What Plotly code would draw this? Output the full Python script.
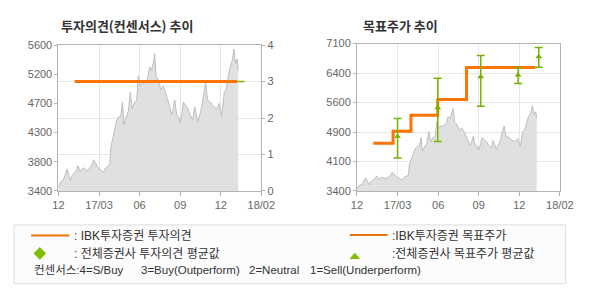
import plotly.graph_objects as go

# ---------------- data ----------------
tick_pos = [0, 1, 2, 3, 4, 5]
tick_text = ["12", "17/03", "06", "09", "12", "18/02"]

# price series (x in tick-interval units from Dec-16)
price_pos = [0.0, 0.056, 0.119, 0.175, 0.214, 0.254, 0.294, 0.333, 0.389, 0.437,
             0.484, 0.532, 0.579, 0.627, 0.690, 0.754, 0.817, 0.865, 0.913, 0.968,
             1.024, 1.103, 1.167, 1.230, 1.262, 1.294, 1.333, 1.381, 1.429, 1.484,
             1.532, 1.579, 1.611, 1.659, 1.722, 1.770, 1.817, 1.881, 1.929, 1.968,
             2.008, 2.071, 2.135, 2.198, 2.246, 2.294, 2.341, 2.373, 2.405, 2.452,
             2.524, 2.579, 2.627, 2.683, 2.738, 2.786, 2.817, 2.865, 2.913, 2.960,
             3.000, 3.040, 3.079, 3.135, 3.190, 3.238, 3.310, 3.357, 3.429, 3.484,
             3.532, 3.587, 3.627, 3.675, 3.746, 3.825, 3.905, 3.960, 4.024, 4.087,
             4.135, 4.183, 4.230, 4.286, 4.325, 4.365, 4.405, 4.429]
price_vals = [3450, 3540, 3560, 3670, 3730, 3640, 3560, 3630, 3660, 3700,
              3780, 3690, 3730, 3750, 3700, 3740, 3780, 3870, 3830, 3750,
              3730, 3680, 3750, 3780, 3780, 4070, 4160, 4310, 4450, 4520,
              4520, 4740, 4400, 4500, 4600, 4890, 4640, 4740, 4770, 5130,
              4980, 5030, 5030, 5100, 5270, 5220, 5340, 5470, 5130, 5080,
              4930, 4980, 4910, 4790, 4690, 4550, 4600, 4770, 4550, 4520,
              4430, 4550, 4740, 4690, 4640, 4550, 4480, 4670, 4450, 4550,
              4670, 4890, 5030, 4770, 4740, 4670, 4640, 4720, 4520, 4890,
              4930, 5130, 5270, 5370, 5540, 5320, 5390, 5220]

# IBK consensus opinion (right axis, 0-4)
opinion_pos = [0.40, 4.40]
opinion_vals = [3, 3]
avg_opinion_pos = [4.40, 4.58]
avg_opinion_vals = [3, 3]

# IBK target price (step)
target_pos = [0.40, 0.89, 1.33, 1.99, 2.70, 4.39]
target_vals = [4600, 4900, 5300, 5700, 6500, 6500]

# all-brokers average target price with range
avg_target_pos = [1.00, 1.99, 3.05, 3.97, 4.48]
avg_target_vals = [4770, 5490, 6270, 6310, 6770]
avg_target_high = [5220, 6230, 6800, 6500, 7000]
avg_target_low = [4230, 4640, 5530, 6100, 6510]

left_ytick_vals = [3400, 3840, 4280, 4720, 5160, 5600]
left_ytick_text = ["3400", "3800", "4300", "4700", "5200", "5600"]
right_ytick_vals = [3400, 4140, 4880, 5620, 6360, 7100]
right_ytick_text = ["3400", "4100", "4900", "5600", "6400", "7100"]

# ---------------- styling ----------------
W, H = 590, 300
ORANGE = "#ff7300"
GREEN = "#74b300"
AXIS = "#b3b3b3"
GRID = "#e6e6e6"
TICKFONT = dict(family="Liberation Sans, Arial, sans-serif", size=11, color="#666666")
LEGFONT = dict(family="Liberation Sans, Noto Sans CJK KR, sans-serif", size=12, color="#333333")


def px(x):
    return x / W


def py(y):
    return 1 - y / H


fig = go.Figure()

# left chart
fig.add_trace(go.Scatter(x=price_pos, y=price_vals, mode="lines", fill="tozeroy",
                         fillcolor="#e0e0e0", line=dict(color="#bdbdbd", width=1),
                         xaxis="x", yaxis="y", hoverinfo="skip"))
fig.add_trace(go.Scatter(x=opinion_pos, y=opinion_vals, mode="lines",
                         line=dict(color=ORANGE, width=3), xaxis="x", yaxis="y2"))
fig.add_trace(go.Scatter(x=avg_opinion_pos, y=avg_opinion_vals, mode="lines",
                         line=dict(color=GREEN, width=1.5), xaxis="x", yaxis="y2"))

# right chart
fig.add_trace(go.Scatter(x=price_pos, y=price_vals, mode="lines", fill="tozeroy",
                         fillcolor="#e0e0e0", line=dict(color="#bdbdbd", width=1),
                         xaxis="x2", yaxis="y3", hoverinfo="skip"))
fig.add_trace(go.Scatter(x=target_pos, y=target_vals, mode="lines", line_shape="hv",
                         line=dict(color=ORANGE, width=3), xaxis="x2", yaxis="y3"))
fig.add_trace(go.Scatter(
    x=avg_target_pos, y=avg_target_vals, mode="markers",
    marker=dict(symbol="triangle-up", size=6, color=GREEN),
    error_y=dict(type="data", symmetric=False,
                 array=[h - v for h, v in zip(avg_target_high, avg_target_vals)],
                 arrayminus=[v - l for l, v in zip(avg_target_low, avg_target_vals)],
                 color=GREEN, thickness=1.5, width=4),
    xaxis="x2", yaxis="y3"))

xcommon = dict(range=[0, 5], tickvals=tick_pos, ticktext=tick_text, showline=True,
               linecolor=AXIS, linewidth=1, mirror=True, showgrid=True, gridcolor=GRID,
               ticks="outside", ticklen=4, tickcolor=AXIS, zeroline=False,
               tickfont=TICKFONT, fixedrange=True)

fig.update_layout(
    width=W, height=H, margin=dict(l=0, r=0, t=0, b=0),
    paper_bgcolor="white", plot_bgcolor="white", showlegend=False,
    xaxis=dict(domain=[px(54.3), px(264.3)], anchor="y", **xcommon),
    yaxis=dict(domain=[py(192.7), py(40.7)], anchor="x", range=[3400, 5600],
               tickvals=left_ytick_vals, ticktext=left_ytick_text, showgrid=False,
               showline=True, linecolor=AXIS, ticks="outside", ticklen=3, tickcolor=AXIS,
               zeroline=False, tickfont=TICKFONT),
    yaxis2=dict(overlaying="y", side="right", anchor="x", range=[0, 4], dtick=1,
                showgrid=True, gridcolor=GRID, showline=True, linecolor=AXIS,
                ticks="outside", ticklen=3, tickcolor=AXIS, zeroline=False,
                tickfont=TICKFONT),
    xaxis2=dict(domain=[px(363.3), px(573.3)], anchor="y3", **xcommon),
    yaxis3=dict(domain=[py(192.7), py(39.2)], anchor="x2", range=[3400, 7100],
                tickvals=right_ytick_vals, ticktext=right_ytick_text, showgrid=True,
                gridcolor=GRID, showline=True, linecolor=AXIS, mirror=True,
                ticks="outside", ticklen=3, tickcolor=AXIS, zeroline=False,
                tickfont=TICKFONT),
)

TITLEFONT = dict(family="Noto Sans CJK KR, sans-serif", size=13, color="#333333", weight="bold")
annots = [
    dict(x=px(55), y=py(20.5), text="투자의견(컨센서스) 추이", font=TITLEFONT),
    dict(x=px(367), y=py(20.5), text="목표주가 추이", font=TITLEFONT),
    dict(x=px(68), y=py(239.5), text=": IBK투자증권 투자의견", font=LEGFONT),
    dict(x=px(68), y=py(258), text=": 전체증권사 투자의견 평균값", font=LEGFONT),
    dict(x=px(397), y=py(239.5), text=":IBK투자증권 목표주가", font=LEGFONT),
    dict(x=px(397), y=py(258), text=":전체증권사 목표주가 평균값", font=LEGFONT),
]
row3 = [(27, "컨센서스:4=S/Buy"), (137.5, "3=Buy(Outperform)"), (249, "2=Neutral"),
        (312.5, "1=Sell(Underperform)")]
for xx, t in row3:
    annots.append(dict(x=px(xx), y=py(275.5), text=t,
                       font=dict(family="Liberation Sans, Noto Sans CJK KR, sans-serif",
                                 size=11.5, color="#333333")))
for a in annots:
    a.update(xref="paper", yref="paper", xanchor="left", yanchor="middle", showarrow=False)
fig.update_layout(annotations=annots)

shapes = [
    dict(type="rect", x0=px(8.3), x1=px(579.3), y0=py(289.3), y1=py(228),
         line=dict(color="#dddddd", width=1), fillcolor="#fcfcfc", layer="below"),
    dict(type="line", x0=px(26), x1=px(65.7), y0=py(239), y1=py(239),
         line=dict(color="#e8730a", width=2)),
    dict(type="line", x0=px(356), x1=px(395), y0=py(238.5), y1=py(238.5),
         line=dict(color="#e8730a", width=2)),
    dict(type="path",
         path=f"M {px(35)} {py(251)} L {px(41.5)} {py(257.7)} L {px(35)} {py(264.4)} L {px(28.5)} {py(257.7)} Z",
         fillcolor="#7cc000", line=dict(width=0)),
    dict(type="path",
         path=f"M {px(361)} {py(257)} L {px(366.5)} {py(263.5)} L {px(355.5)} {py(263.5)} Z",
         fillcolor="#7cc000", line=dict(width=0)),
]
for s in shapes:
    s.update(xref="paper", yref="paper")
fig.update_layout(shapes=shapes)

fig.write_html("out.html")
